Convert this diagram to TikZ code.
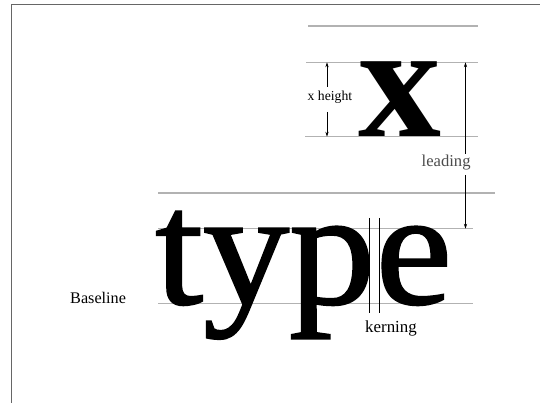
\documentclass[tikz,border=0pt]{standalone}
\usepackage{fontspec}
\setmainfont{Liberation Serif}
\newfontfamily\heavyserif[FakeBold=1.2]{Liberation Serif}
\usetikzlibrary{arrows.meta}
\begin{document}
\begin{tikzpicture}[x=1pt,y=-1pt,
  guide/.style={draw=black!30,line width=1.1pt},
  frameline/.style={draw=black!60,line width=1pt},
  dim/.style={draw=black,line width=0.6pt},
  tip/.style={-{Stealth[length=5pt,width=3.2pt]}},
  lbl/.style={inner sep=0pt,anchor=base west},
  big/.style={inner sep=0pt,anchor=base west,xscale=1.05,font=\heavyserif\fontsize{164}{164}\selectfont}]
\useasboundingbox (0,0) rectangle (540,403);
\fill[white] (0,0) rectangle (540,403);
% frame
\coordinate (f1) at (11,403);
\coordinate (f2) at (11,5);
\coordinate (f3) at (540,5);
\draw[frameline] (f1) -- (f2) -- (f3);
% guide lines
\coordinate (a1) at (308,26);    \coordinate (a2) at (478,26);
\coordinate (b1) at (306,62.3);  \coordinate (b2) at (478,62.3);
\coordinate (c1) at (305,136.7); \coordinate (c2) at (478,136.7);
\coordinate (d1) at (158,193);   \coordinate (d2) at (495,193);
\coordinate (e1) at (158,228.7); \coordinate (e2) at (473,228.7);
\coordinate (g1) at (158,303.7); \coordinate (g2) at (473,303.7);
\draw[guide] (a1) -- (a2);
\draw[guide] (b1) -- (b2);
\draw[guide] (c1) -- (c2);
\draw[guide] (d1) -- (d2);
\draw[guide] (e1) -- (e2);
\draw[guide] (g1) -- (g2);
% big letters
\node[big,xscale=0.97,font=\fontsize{163}{163}\selectfont\bfseries] (X) at (358,136.7) {x};
\node[big] (typ) at (155,303.7) {typ};
\node[big] (E) at (375.5,303.7) {e};
% kerning lines
\coordinate (k1) at (369.5,218); \coordinate (k2) at (369.5,313);
\coordinate (k3) at (379,218);   \coordinate (k4) at (379,313);
\draw[dim] (k1) -- (k2);
\draw[dim] (k3) -- (k4);
% x height
\node[lbl,font=\fontsize{13.7}{13.7}\selectfont] (xh) at (307.5,100.5) {x height};
\coordinate (xt) at (327,62.3);  \coordinate (xu) at (327,87);
\coordinate (xb) at (327,136.7); \coordinate (xd) at (327,112);
\draw[dim,tip] (xu) -- (xt);
\draw[dim,tip] (xd) -- (xb);
% leading
\node[lbl,font=\fontsize{16.6}{16.6}\selectfont,text=black!70] (lead) at (421.5,166.5) {leading};
\coordinate (lt) at (465.5,62.3);  \coordinate (lu) at (465.5,154);
\coordinate (lb) at (465.5,228.7); \coordinate (ld) at (465.5,175);
\draw[dim,tip] (lu) -- (lt);
\draw[dim,tip] (ld) -- (lb);
% labels
\node[lbl,font=\fontsize{16.2}{16.2}\selectfont] (base) at (70,303.5) {Baseline};
\node[lbl,font=\fontsize{16.9}{16.9}\selectfont] (kern) at (365,332) {kerning};
\end{tikzpicture}
\end{document}
